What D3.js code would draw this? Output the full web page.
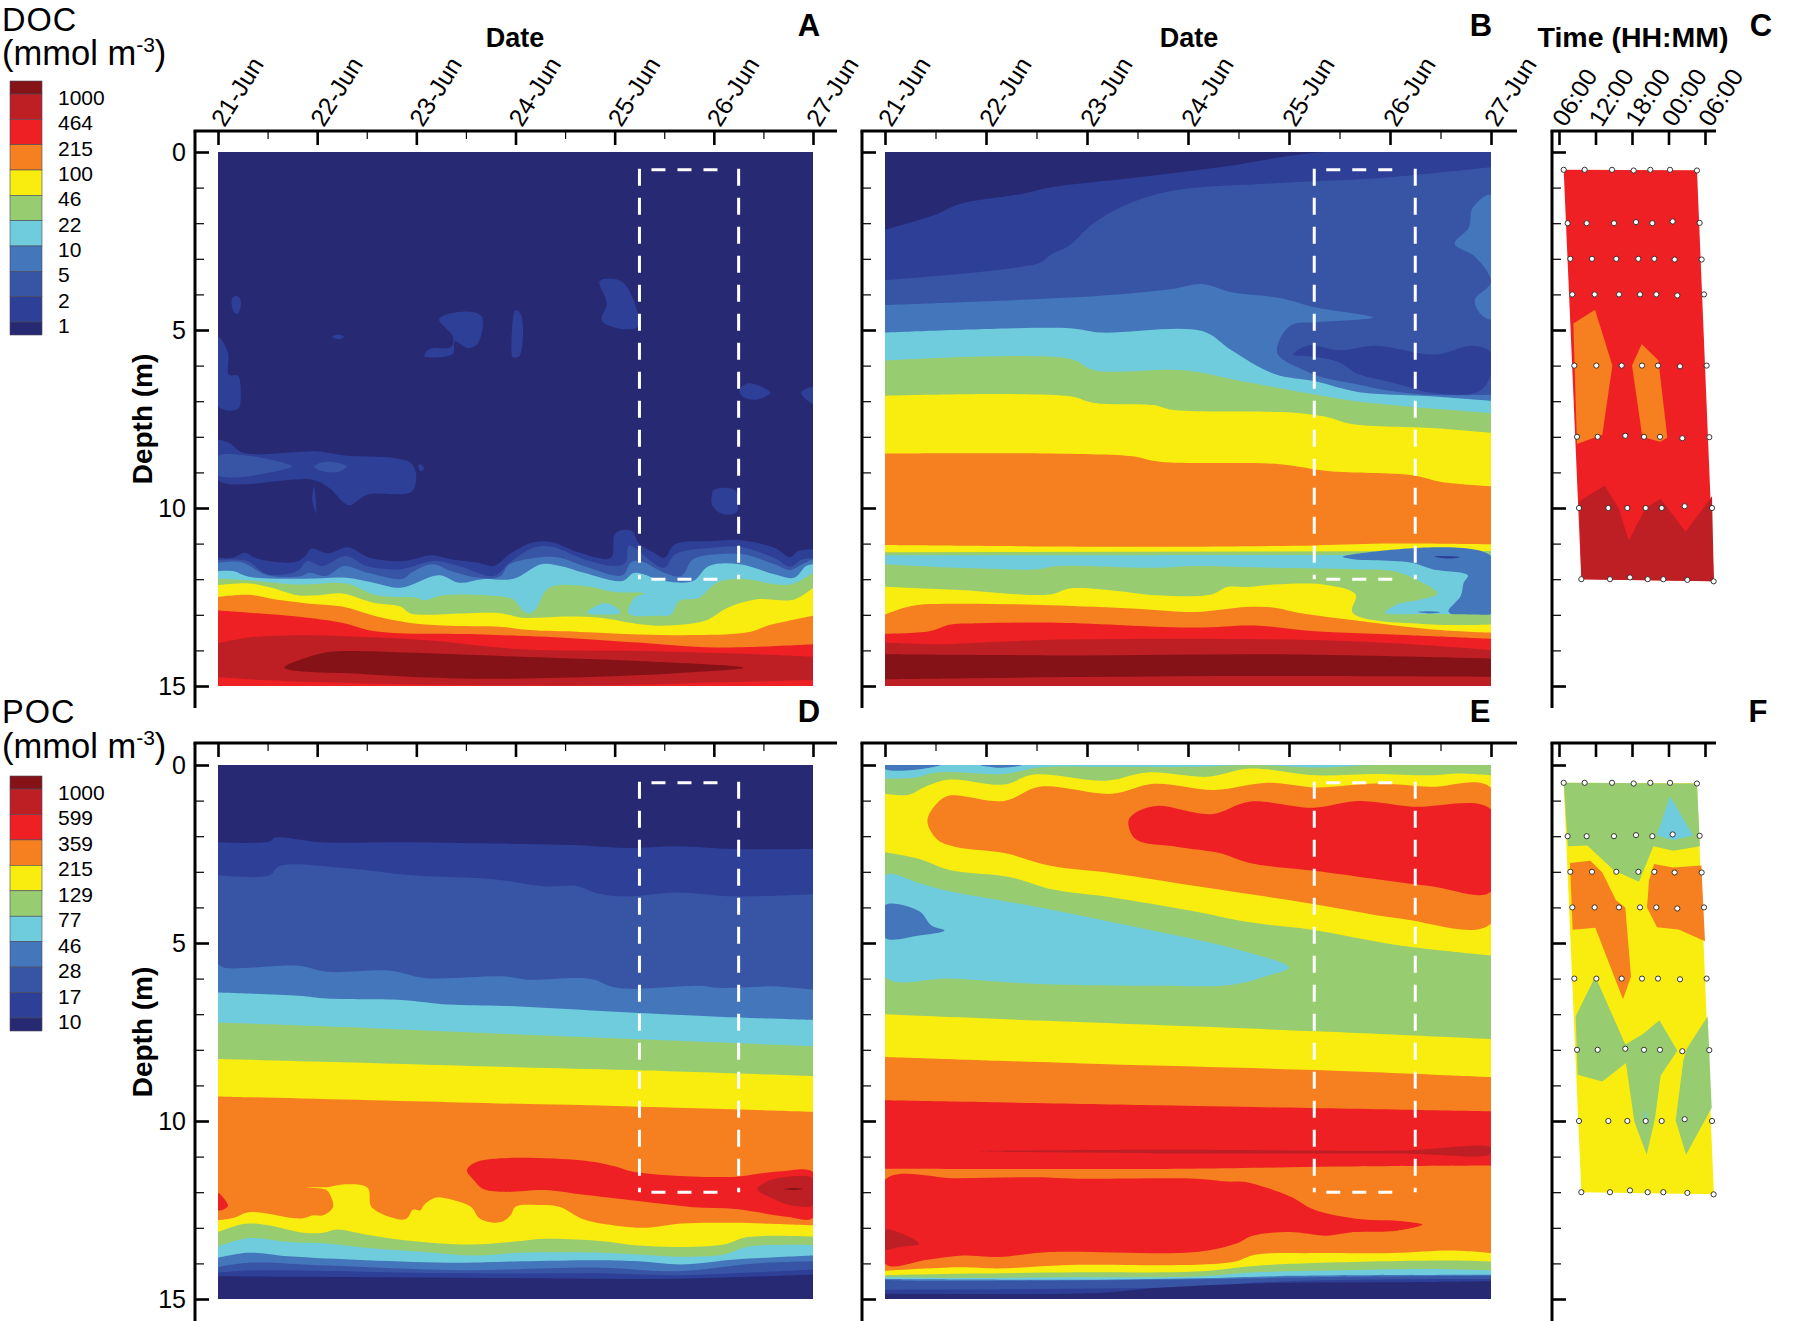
<!DOCTYPE html>
<html>
<head>
<meta charset="utf-8">
<title>DOC and POC depth profiles</title>
<script src="https://cdn.jsdelivr.net/npm/d3@7"></script>
<style>
  html, body { margin: 0; padding: 0; background: #fff; }
  text { font-family: "Liberation Sans", Arial, sans-serif; fill: #000; }
  .axis text { font-family: "Liberation Sans", Arial, sans-serif; fill: #000; }
</style>
</head>
<body>
<div id="chart"></div>
<script>
// contour level colours, low to high
const levelColors = ["#272973", "#2e3f98", "#3854a5", "#4376bb", "#6fccdd", "#98cc70", "#f8ed0f", "#f67f20", "#ee2024", "#bd1f25", "#841216"];
const docLevels = ["1000", "464", "215", "100", "46", "22", "10", "5", "2", "1"];
const pocLevels = ["1000", "599", "359", "215", "129", "77", "46", "28", "17", "10"];
const dayLabels = ["21-Jun", "22-Jun", "23-Jun", "24-Jun", "25-Jun", "26-Jun", "27-Jun"];
const hourLabels = ["06:00", "12:00", "18:00", "00:00", "06:00"];
const depthLabels = [0, 5, 10, 15];
const boxDays = [4.25, 5.25];
const boxDepths = [0.5, 12];

// Each band: [level, day, depth, day, depth, ...] filled from the line down to 15 m
// Each patch: same, but a closed outline
const bandsA = [
  [0, 0, 0, 6, 0],
  [1, 0, 11.4, .15, 11.4, .27, 11.26, .39, 11.42, .78, 11.52, .88, 11.35, .94, 11.14, 1.11, 11.27, 1.31, 11.1, 1.53, 11.4, 1.88, 11.49, 2.15, 11.33, 2.35, 11.44, 2.63, 11.54, 2.78, 11.63, 2.96, 11.26, 3.18, 10.96, 3.37, 10.96, 3.65, 11.26, 3.96, 11.4, 4.0, 10.74, 4.08, 10.62, 4.18, 10.65, 4.24, 10.98, 4.4, 11.26, 4.5, 11.4, 4.61, 11.02, 4.99, 10.93, 5.26, 10.9, 5.61, 11.12, 5.77, 11.38, 5.85, 11.21, 6, 11.16],
  [2, 0, 11.46, .29, 11.49, .5, 11.86, .8, 11.77, .9, 11.49, 1.05, 11.63, 1.29, 11.35, 1.5, 11.63, 1.84, 11.72, 2.18, 11.49, 2.43, 11.63, 2.78, 11.91, 2.94, 11.54, 3.18, 11.12, 3.37, 11.09, 3.69, 11.44, 4.0, 11.63, 4.11, 11.54, 4.14, 11.07, 4.2, 11.12, 4.26, 11.26, 4.5, 11.68, 4.61, 11.3, 4.99, 11.12, 5.26, 11.09, 5.61, 11.4, 5.77, 11.65, 5.89, 11.44, 6, 11.42],
  [3, 0, 11.54, .23, 11.52, .5, 11.89, .84, 11.91, .92, 11.82, 1.09, 11.91, 1.27, 11.63, 1.51, 11.82, 1.86, 11.99, 1.96, 11.8, 2.16, 11.58, 2.35, 11.77, 2.63, 11.96, 2.84, 11.93, 2.94, 11.58, 3.26, 11.38, 3.45, 11.4, 3.69, 11.63, 4.08, 11.89, 4.16, 11.54, 4.26, 11.49, 4.5, 11.82, 4.67, 11.91, 4.79, 11.44, 5.03, 11.3, 5.3, 11.3, 5.61, 11.58, 5.77, 11.74, 5.89, 11.58, 6, 11.44],
  [4, 0, 11.77, .15, 11.77, .31, 11.93, .86, 11.99, 1.29, 11.96, 1.57, 12.1, 1.84, 12.24, 2.23, 11.89, 2.43, 12.1, 2.67, 12.0, 2.98, 11.99, 3.26, 11.58, 3.45, 11.63, 3.69, 11.82, 4.08, 12.05, 4.2, 11.82, 4.5, 12.05, 4.79, 12.05, 4.95, 11.63, 5.26, 11.58, 5.61, 11.86, 5.81, 11.96, 5.93, 11.63, 6, 11.58],
  [5, 0, 11.99, .31, 12.03, .82, 12.15, 1.29, 12.12, 1.6, 12.45, 2, 12.52, 2.08, 12.59, 2.27, 12.45, 2.9, 12.5, 2.98, 12.57, 3.08, 12.89, 3.14, 12.96, 3.2, 12.85, 3.34, 12.24, 3.69, 12.19, 4.0, 12.36, 4.3, 12.4, 4.2, 12.52, 4.14, 12.96, 4.44, 13.03, 4.57, 12.99, 4.65, 12.61, 4.85, 12.52, 5.03, 12.1, 5.26, 11.99, 5.77, 12.15, 6, 11.82],
  [6, 0, 12.17, .31, 12.12, .54, 12.24, .8, 12.45, 1.01, 12.45, 1.25, 12.4, 1.57, 12.66, 1.84, 12.77, 1.94, 12.96, 2.47, 12.96, 2.86, 12.96, 3.06, 13.08, 3.53, 13.05, 3.85, 13.08, 4.28, 13.27, 4.55, 13.3, 4.91, 13.17, 5.14, 12.8, 5.42, 12.57, 5.81, 12.57, 6, 12.24],
  [7, 0, 12.5, .31, 12.44, .58, 12.57, .9, 12.68, 1.25, 12.77, 1.6, 13.05, 1.92, 13.22, 2.27, 13.3, 2.86, 13.34, 3.14, 13.43, 3.65, 13.48, 4.24, 13.55, 4.83, 13.57, 5.36, 13.48, 5.54, 13.31, 6, 13.03],
  [8, 0, 12.88, .31, 12.94, .9, 13.08, 1.25, 13.22, 1.6, 13.47, 2.67, 13.55, 3.65, 13.67, 4.24, 13.78, 5.03, 13.92, 6, 13.83],
  [9, 0, 13.8, .31, 13.64, .7, 13.58, 1.29, 13.6, 2.08, 13.71, 3.06, 13.97, 4.24, 14.02, 5.42, 14.11, 6, 14.18],
  [8, 0, 14.75, .5, 14.84, 1.88, 14.95, 3.85, 14.98, 5.03, 14.9, 6, 14.83]
];
const patchesA = [
  [1, .14, 4.13, .19, 4.04, .23, 4.19, .2, 4.54, .16, 4.5],
  [1, 0, 5.19, .1, 5.63, .11, 6.26, .2, 6.28, .23, 6.76, .2, 7.22, 0, 7.14],
  [1, 1.15, 5.19, 1.22, 5.13, 1.27, 5.19, 1.22, 5.26],
  [1, 2.23, 4.69, 2.52, 4.48, 2.66, 4.63, 2.62, 5.38, 2.52, 5.51, 2.39, 5.32, 2.37, 5.66, 2.26, 5.76, 2.08, 5.73, 2.14, 5.53, 2.35, 5.48, 2.37, 5.19],
  [1, 3.0, 4.44, 3.06, 4.6, 3.04, 5.73, 2.97, 5.76, 2.96, 5.63],
  [1, 3.85, 3.62, 4.08, 3.65, 4.24, 4.88, 4.11, 4.98, 3.88, 4.78, 3.87, 4.65, 3.92, 4.25],
  [1, 5.26, 6.7, 5.33, 6.51, 5.42, 6.53, 5.57, 6.76, 5.44, 6.95, 5.3, 6.89],
  [1, 6, 7.07, 5.88, 6.76, 6, 6.61],
  [1, 0, 8.1, .08, 8.14, .12, 8.18, .26, 8.45, 1.01, 8.41, 1.27, 8.52, 1.96, 8.77, 1.96, 9.52, 1.51, 9.62, 1.33, 9.92, 1.26, 9.83, 1.13, 9.45, .96, 9.21, 0, 9.21],
  [2, 0, 8.54, .75, 8.83, 0, 9.08],
  [2, .97, 8.83, 1.1, 8.7, 1.3, 8.83, 1.22, 8.98, 1.04, 8.96],
  [1, 2.02, 8.79, 2.04, 8.77, 2.08, 8.89, 2.04, 8.96],
  [1, .97, 9.39, .99, 10.15, .95, 9.77],
  [1, 5.0, 9.49, 5.21, 9.49, 5.23, 10.12, 5.07, 10.15, 4.98, 9.9, 4.98, 9.65],
  [4, 3.72, 12.94, 3.8, 12.77, 3.88, 12.68, 3.98, 12.73, 4.06, 12.94],
  [10, .67, 14.49, 1.05, 14.08, 1.29, 14.02, 1.88, 14.06, 3.06, 14.18, 4.24, 14.3, 5.3, 14.49, 4.63, 14.64, 3.45, 14.77, 2.47, 14.79, 1.49, 14.67]
];

const bandsB = [
  [0, 0, 0, 6, 0],
  [1, 0, 2.18, .52, 1.74, .73, 1.47, 1.35, 1.18, 1.65, .99, 2.42, .74, 3.31, .43, 4.35, 0, 6, 0],
  [2, 0, 3.6, .94, 3.37, 1.35, 3.22, 1.53, 3.12, 1.65, 2.87, 1.83, 2.62, 2.04, 2.06, 2.36, 1.52, 2.84, 1.09, 3.91, .87, 4.86, .74, 6, .43],
  [3, 0, 4.3, .94, 4.2, 2.13, 4.04, 2.84, 3.85, 3.14, 3.71, 3.43, 3.94, 3.91, 4.1, 4.27, 4.37, 4.83, 4.65, 4.27, 4.78, 4.03, 4.85, 3.91, 5.25, 3.89, 5.69, 4.15, 6.13, 4.32, 6.32, 4.68, 6.53, 4.98, 6.7, 5.37, 6.82, 6, 6.82],
  [4, 0, 5.07, 1.83, 4.95, 2.13, 5.07, 3.14, 5.03, 3.43, 5.57, 3.85, 6.23, 4.27, 6.45, 4.68, 6.74, 5.39, 6.86, 6, 6.99],
  [5, 0, 5.86, 1.83, 5.81, 2.07, 6.13, 2.96, 6.13, 3.55, 6.45, 4.27, 6.82, 4.68, 7.01, 5.22, 7.16, 6, 7.33],
  [6, 0, 6.85, 1.83, 6.86, 2.07, 7.05, 2.66, 7.11, 2.84, 7.24, 4.03, 7.32, 4.38, 7.45, 4.62, 7.64, 5.45, 7.76, 6, 7.89],
  [7, 0, 8.47, 2.42, 8.54, 2.72, 8.7, 3.91, 8.77, 4.38, 8.96, 5.22, 9.08, 5.51, 9.27, 6, 9.39],
  [6, 0, 11.04, 2.68, 11.09, 4.25, 11.05, 5.03, 11.0, 6, 11.02],
  [5, 0, 11.24, 6, 11.21],
  [4, 0, 11.33, 4.25, 11.32, 6, 11.3],
  [5, 0, 11.58, .73, 11.68, 1.51, 11.72, 1.71, 11.63, 2.68, 11.68, 3.08, 11.63, 3.86, 11.68, 4.64, 11.72, 5.03, 11.77, 5.22, 11.96, 5.47, 12.4, 5.3, 12.57, 5.07, 12.71, 4.95, 12.94, 5.42, 12.97, 6, 13.0],
  [6, 0, 12.21, .73, 12.3, 1.63, 12.43, 1.83, 12.26, 2.3, 12.33, 2.68, 12.45, 3.23, 12.43, 3.39, 12.22, 3.58, 12.22, 3.86, 12.15, 4.37, 12.16, 4.66, 12.43, 4.63, 12.94, 5.42, 13.27, 6, 13.27],
  [7, 0, 12.99, .26, 12.75, .65, 12.69, 1.63, 12.73, 2.49, 12.83, 3.08, 12.92, 3.58, 12.78, 3.86, 12.8, 4.09, 12.94, 4.84, 13.22, 5.42, 13.41, 6, 13.5],
  [8, 0, 13.53, .44, 13.46, .65, 13.27, .93, 13.24, 1.71, 13.22, 3.08, 13.36, 3.66, 13.3, 4.25, 13.46, 5.03, 13.55, 6, 13.67],
  [9, 0, 13.78, .54, 13.83, 1.12, 13.76, 1.9, 13.69, 3.86, 13.69, 5.03, 13.8, 6, 13.99],
  [10, 0, 14.11, 1.9, 14.14, 3.86, 14.11, 6, 14.23],
  [9, 0, 14.81, 1.9, 14.75, 3.86, 14.72, 6, 14.74]
];
const patchesB = [
  [3, 6, 1.2, 5.82, 1.56, 5.78, 2.12, 5.64, 2.58, 5.84, 2.94, 6, 3.65, 5.84, 4.15, 5.9, 4.56, 6, 4.69],
  [1, 4.04, 5.69, 4.18, 5.44, 4.5, 5.57, 4.86, 5.44, 5.45, 5.69, 5.81, 5.44, 6, 5.63, 6, 6.26, 5.87, 6.74, 5.36, 6.74, 5.22, 6.63, 4.98, 6.45, 4.68, 6.23, 4.5, 5.91, 4.27, 5.76],
  [3, 4.53, 11.37, 4.64, 11.44, 5.03, 11.49, 5.22, 11.54, 5.42, 11.72, 5.77, 11.89, 5.73, 12.1, 5.7, 12.47, 5.58, 12.92, 6, 12.97, 6, 11.35],
  [1, 5.44, 11.36, 5.57, 11.35, 5.69, 11.38, 5.57, 11.42],
  [3, 5.27, 12.92, 5.4, 12.9, 5.5, 12.93, 5.4, 12.96]
];

const bandsD = [
  [0, 0, 0, 6, 0],
  [1, 0, 2.17, .52, 2.15, .58, 2.04, 1.04, 2.17, 1.85, 2.17, 2.43, 2.19, 3.59, 2.25, 4.11, 2.33, 4.63, 2.28, 5.21, 2.36, 6, 2.36],
  [2, 0, 3.1, .52, 3.1, .62, 2.84, 1.27, 2.89, 1.96, 3.1, 2.78, 3.21, 3.3, 3.41, 3.62, 3.4, 3.82, 3.6, 4.11, 3.69, 4.63, 3.58, 5.21, 3.69, 6, 3.63],
  [3, 0, 5.58, .06, 5.69, .81, 5.64, 1.1, 5.81, 1.74, 5.78, 2.08, 5.98, 2.9, 5.94, 3.13, 6.03, 3.76, 6.01, 4.02, 6.26, 4.87, 6.2, 5.04, 6.26, 5.62, 6.22, 6, 6.31],
  [4, 0, 6.39, .81, 6.48, 1.1, 6.56, 1.85, 6.6, 2.32, 6.73, 2.9, 6.77, 4.05, 6.94, 5.04, 7.07, 6, 7.16],
  [5, 0, 7.23, 1.27, 7.36, 2.43, 7.5, 4.17, 7.7, 6, 7.9],
  [6, 0, 8.26, 1.27, 8.35, 3.01, 8.49, 4.17, 8.57, 6, 8.74],
  [7, 0, 9.31, 2.43, 9.48, 4.17, 9.59, 6, 9.74]
];
const patchesD = [
  [8, 2.51, 11.38, 2.63, 11.13, 3.65, 11.1, 4.0, 11.27, 4.2, 11.43, 5.18, 11.57, 5.5, 11.46, 5.69, 11.41, 6, 11.44, 6, 12.72, 5.73, 12.69, 5.22, 12.47, 4.79, 12.42, 4.24, 12.25, 3.65, 12.06, 3.3, 11.94, 2.87, 11.99, 2.67, 11.9, 2.59, 11.69],
  [9, 5.44, 11.91, 5.57, 11.66, 5.73, 11.57, 6, 11.62, 6, 12.35, 5.81, 12.39, 5.61, 12.2],
  [10, 5.71, 11.91, 5.79, 11.88, 5.9, 11.91, 5.8, 11.94],
  [8, 0, 12.02, .1, 12.39, 0, 12.51]
];
const lowerBandsD = [
  [6, 0, 12.79, .16, 12.72, .31, 12.56, .84, 12.74, .96, 12.65, 1.06, 12.65, 1.16, 12.41, 1.12, 12.02, 1.08, 11.92, .9, 11.88, .96, 11.86, 1.1, 11.86, 1.28, 11.78, 1.51, 11.88, 1.55, 12.42, 1.87, 12.77, 1.92, 12.69, 1.96, 12.5, 2, 12.49, 2.04, 12.51, 2.08, 12.35, 2.18, 12.16, 2.28, 12.16, 2.55, 12.41, 2.63, 12.72, 2.72, 12.83, 2.85, 12.84, 2.95, 12.65, 3.0, 12.41, 3.22, 12.36, 3.44, 12.41, 3.69, 12.77, 4.04, 12.95, 4.32, 13.0, 4.67, 12.88, 5.22, 12.86, 6, 12.93],
  [5, 0, 13.12, .2, 12.93, .31, 12.88, .51, 12.93, .86, 13.14, 1.06, 13.14, 1.2, 13.05, 1.49, 13.19, 1.88, 13.35, 2.55, 13.47, 3.06, 13.37, 3.3, 13.31, 3.85, 13.37, 4.24, 13.5, 4.63, 13.54, 5.1, 13.47, 5.34, 13.26, 6, 13.25],
  [4, 0, 13.53, .31, 13.29, .71, 13.4, 1.1, 13.44, 1.49, 13.56, 2.08, 13.68, 2.59, 13.78, 3.06, 13.7, 3.85, 13.7, 4.24, 13.75, 4.63, 13.81, 5.1, 13.75, 5.34, 13.53, 6, 13.48],
  [3, 0, 13.84, .31, 13.7, .71, 13.8, 1.49, 13.91, 2.43, 13.98, 3.06, 13.94, 3.85, 13.91, 4.24, 13.94, 4.67, 14.03, 5.22, 13.89, 6, 13.78],
  [2, 0, 14.1, .31, 13.98, 1.1, 14.06, 2.43, 14.19, 3.85, 14.12, 4.63, 14.22, 5.42, 14.0, 6, 13.94],
  [1, 0, 14.26, .31, 14.2, 2.43, 14.28, 3.85, 14.28, 4.63, 14.33, 6, 14.17],
  [0, 0, 14.36, 2.43, 14.4, 4.63, 14.43, 6, 14.31]
];

const bandsE = [
  [4, 0, 0, 6, 0],
  [5, 0, .38, .28, .36, .52, .21, 1.17, .25, 1.53, .07, 2.25, .05, 3.08, .05, 3.67, 0, 4.27, .07, 4.86, 0, 6, 0],
  [6, 0, .81, .23, .84, .4, .61, .64, .41, 1.18, .55, 1.47, .27, 2.19, .44, 2.6, .21, 3.2, .33, 3.61, .1, 4.27, .29, 4.86, .25, 5.39, .29, 5.69, .24, 6, .29]
];
const patchesE = [
  [3, 0, 0, .55, 0, .28, .14, 0, .11],
  [3, .94, 0, 1.36, 0, 1.15, .08],
  [7, .42, 1.57, .52, 1.06, .64, .86, 1.18, 1.01, 1.53, .61, 2.25, .81, 2.66, .53, 3.26, .7, 3.79, .5, 4.27, .63, 4.86, .52, 5.39, .61, 6, .64, 6, 4.45, 5.1, 4.31, 4.21, 3.89, 3.14, 3.43, 2.25, 3.04, 1.65, 2.84, 1.18, 2.47, .7, 2.3, .52, 2.1],
  [8, 2.41, 1.57, 2.48, 1.34, 2.69, 1.15, 3.23, 1.38, 3.61, 1.03, 4.24, 1.2, 4.68, 1.01, 5.22, 1.17, 6, 1.25, 6, 3.55, 5.39, 3.4, 4.27, 2.98, 3.61, 2.75, 3.31, 2.47, 2.9, 2.3, 2.48, 2.08]
];
const midBandsE = [
  [5, 0, 2.45, .34, 2.64, .64, 2.95, 1.24, 3.15, 1.65, 3.49, 2.25, 3.72, 3.02, 4.09, 3.61, 4.42, 4.21, 4.62, 5.1, 5.07, 6, 5.35]
];
const midPatchesE = [
  [4, 0, 3.1, .34, 3.32, .58, 3.51, 1.53, 4.0, 2.6, 4.62, 3.49, 5.18, 4.0, 5.69, 3.79, 5.92, 3.44, 6.17, 2.72, 6.2, 1.53, 6.15, .64, 6.0, 0, 5.95],
  [3, 0, 3.94, .34, 4.11, .46, 4.51, .59, 4.65, .34, 4.79, 0, 4.85]
];
const deepBandsE = [
  [6, 0, 7.0, 1.53, 7.18, 4.27, 7.48, 6, 7.7],
  [7, 0, 8.2, 2.13, 8.4, 4.27, 8.57, 6, 8.77],
  [8, 0, 9.42, 2.72, 9.56, 6, 9.73],
  [7, 0, 11.34, 3.02, 11.34, 4.5, 11.28, 6, 11.25]
];
const deepPatchesE = [
  [9, .94, 10.85, 2.72, 10.81, 5.1, 10.83, 6, 10.75, 6, 10.92, 5.1, 10.91, 2.72, 10.91],
  [8, 0, 11.65, .73, 11.61, 1.51, 11.58, 1.9, 11.62, 3.08, 11.62, 3.39, 11.7, 3.58, 11.72, 4.01, 12.12, 4.25, 12.49, 4.72, 12.76, 5.07, 12.8, 5.32, 12.91, 5.07, 13.08, 4.64, 13.12, 4.37, 13.22, 4.01, 13.12, 3.64, 13.22, 3.47, 13.45, 3.08, 13.68, 1.63, 13.68, 1.12, 13.82, .77, 13.78, .42, 13.9, 0, 14.01],
  [9, 0, 13.06, .14, 13.13, .34, 13.45, .14, 13.54, 0, 13.6]
];
const lowerBandsE = [
  [6, 0, 14.21, .73, 14.11, 1.12, 14.14, 1.9, 14.04, 3.08, 14.04, 3.47, 13.95, 3.66, 13.76, 4.25, 13.71, 5.03, 13.71, 5.62, 13.64, 6, 13.71],
  [5, 0, 14.33, .73, 14.29, 1.9, 14.25, 3.08, 14.23, 3.66, 14.07, 4.25, 13.99, 5.62, 13.92, 6, 13.95],
  [4, 0, 14.38, .73, 14.41, 1.9, 14.39, 3.08, 14.37, 3.66, 14.25, 4.44, 14.2, 5.42, 14.16, 6, 14.2],
  [3, 0, 14.44, 1.9, 14.46, 3.27, 14.41, 4.05, 14.35, 6, 14.32],
  [2, 0, 14.46, .23, 14.49, 1.9, 14.48, 3.27, 14.44, 4.25, 14.39, 6, 14.35],
  [1, 0, 14.74, 1.51, 14.72, 3.19, 14.65, 3.66, 14.54, 4.64, 14.46, 6, 14.44],
  [0, 0, 14.85, 2.1, 14.83, 2.69, 14.69, 3.86, 14.55, 5.03, 14.53, 6, 14.5]
];

// Sampling stations for the 24 h casts: hours after 06:00, then depth
const stationHours = [
  [.77, 4.22, 8.71, 12.27, 15.01, 18.25, 22.68],
  [1.42, 4.55, 9.04, 12.66, 15.34, 18.68, 23.12],
  [1.86, 5.42, 9.42, 13.04, 15.67, 19.01, 23.45],
  [2.19, 5.86, 9.86, 13.32, 16.0, 19.45, 23.84],
  [2.52, 6.14, 10.3, 13.64, 16.27, 19.89, 24.27],
  [2.96, 6.36, 10.9, 13.97, 16.6, 20.27, 24.71],
  [3.29, 8.11, 11.23, 14.25, 16.88, 20.66, 25.15],
  [3.67, 8.38, 11.67, 14.58, 17.15, 21.1, 25.42]
];
const stationDepths = [
  [.5, .5, .5, .52, .5, .5, .52],
  [2, 2, 2, 1.97, 2, 1.95, 1.99],
  [3, 3, 3, 3, 3, 3.02, 3.02],
  [4, 4, 4, 4, 4, 4.03, 4],
  [6, 6, 6, 6, 6, 6.02, 6],
  [8, 8, 7.97, 8, 8, 8.04, 8.01],
  [10, 10, 10, 10, 10, 9.95, 10],
  [12, 12, 11.95, 12, 12, 12.02, 12.06]
];
const castOutline = [.77, .5, 22.68, .51, 25.46, 12.06, 3.67, 12];
const patchesC = [
  [7, 2.36, 4.82, 5.92, 4.43, 8.77, 6.0, 7.12, 7.94, 2.96, 8.2],
  [7, 12.0, 6.0, 13.59, 5.39, 16.33, 5.85, 17.81, 8.03, 16.6, 8.14, 13.7, 8.0],
  [9, 3.34, 9.81, 7.5, 9.37, 9.81, 10, 11.45, 10.91, 14.25, 10, 16.71, 9.74, 20.82, 10.67, 25.15, 9.67, 25.46, 12.06, 3.67, 12]
];
const patchesF = [
  [5, .77, .5, 22.68, .52, 23.18, 2.28, 18.79, 2.41, 15.51, 2.28, 13.15, 3.28, 9.04, 2.96, 4.66, 2.26, 1.48, 2.28],
  [4, 18.25, .88, 22.03, 1.98, 18.79, 2.11, 16.05, 1.98],
  [7, 1.8, 2.75, 5.15, 2.69, 7.12, 3.02, 9.37, 3.8, 10.9, 4.0, 11.84, 5.94, 10.52, 6.58, 5.97, 4.57, 2.25, 4.63],
  [7, 15.62, 2.78, 18.79, 2.88, 23.4, 2.82, 24, 4.95, 19.67, 4.62, 16.11, 4.56, 14.47, 4.0, 14.8, 3.24],
  [5, 2.74, 7.06, 5.97, 5.94, 10.9, 7.85, 13.86, 7.55, 16.5, 7.17, 19.45, 8.03, 16.71, 8.72, 15.78, 9.93, 14.41, 10.95, 12.38, 10.01, 11.01, 8.37, 7.12, 8.89, 3.07, 8.7],
  [5, 24.44, 7.06, 25.1, 9.63, 20.88, 10.95, 19.18, 9.98, 20.44, 8.3, 21, 7.97],
  [4, 14.2, 9.65, 13.97, 9.93, 14.41, 9.93]
];

const W = 1801, H = 1321;
const svg = d3.select("#chart").append("svg")
  .attr("width", W).attr("height", H)
  .style("display", "block")
  .style("background", "#fff");

const rows = [
  { top: 131, y0: 152, y1: 686, axisEnd: 708 },
  { top: 743, y0: 765, y1: 1299, axisEnd: 1321 }
];
const cols = [
  { axis: 195, x0: 218, x1: 813, end: 837 },
  { axis: 862, x0: 885, x1: 1491, end: 1517 }
];
const castCol = { axis: 1552, x0: 1559, x1: 1705, end: 1716 };

const toPoints = row => d3.range(1, row.length, 2).map(i => [row[i], row[i + 1]]);

function drawAxes(g, x, y, row, col, topTicks, minorTicks, topLabels, showDepth) {
  const top = g.append("g").attr("class", "axis").attr("transform", `translate(0,${row.top})`);
  top.call(d3.axisTop(x).tickValues(topTicks).tickSizeInner(-14).tickSizeOuter(0).tickFormat((d, i) => topLabels ? topLabels[i] : ""));
  top.select(".domain").remove();
  top.selectAll("line").attr("stroke", "#000").attr("stroke-width", 2.6);
  top.selectAll("text")
    .attr("font-size", 24.7)
    .attr("text-anchor", "start")
    .attr("x", null).attr("y", null).attr("dy", null)
    .attr("transform", "translate(6,-3) rotate(-58)");
  if (minorTicks.length) {
    const minor = g.append("g").attr("class", "axis").attr("transform", `translate(0,${row.top})`);
    minor.call(d3.axisTop(x).tickValues(minorTicks).tickSizeInner(-8).tickSizeOuter(0).tickFormat(""));
    minor.select(".domain").remove();
    minor.selectAll("line").attr("stroke", "#000").attr("stroke-width", 1.2);
  }
  const left = g.append("g").attr("class", "axis").attr("transform", `translate(${col.axis},0)`);
  left.call(d3.axisLeft(y).tickValues(depthLabels).tickSizeInner(-14).tickSizeOuter(0).tickPadding(9).tickFormat(d => showDepth ? d : ""));
  left.select(".domain").remove();
  left.selectAll("line").attr("stroke", "#000").attr("stroke-width", 2.6);
  left.selectAll("text").attr("font-size", 25);
  const leftMinor = g.append("g").attr("class", "axis").attr("transform", `translate(${col.axis},0)`);
  leftMinor.call(d3.axisLeft(y).tickValues(d3.range(0, 16).filter(d => d % 5)).tickSizeInner(-9).tickSizeOuter(0).tickFormat(""));
  leftMinor.select(".domain").remove();
  leftMinor.selectAll("line").attr("stroke", "#000").attr("stroke-width", 1.2);
  g.append("line").attr("x1", col.axis - 1.5).attr("x2", col.end).attr("y1", row.top).attr("y2", row.top)
    .attr("stroke", "#000").attr("stroke-width", 3);
  g.append("line").attr("x1", col.axis).attr("x2", col.axis).attr("y1", row.top).attr("y2", row.axisEnd)
    .attr("stroke", "#000").attr("stroke-width", 3);
}

let clipCount = 0;
function drawContourPanel(row, col, layers, showDates, showDepth) {
  const x = d3.scaleLinear().domain([0, 6]).range([col.x0, col.x1]);
  const y = d3.scaleLinear().domain([0, 15]).range([row.y0, row.y1]);
  const g = svg.append("g");
  const id = "clip" + (clipCount++);
  g.append("clipPath").attr("id", id).append("rect")
    .attr("x", col.x0).attr("y", row.y0).attr("width", col.x1 - col.x0).attr("height", row.y1 - row.y0);
  const plot = g.append("g").attr("clip-path", `url(#${id})`);
  const bandLine = d3.line().x(d => x(d[0])).y(d => y(d[1])).curve(d3.curveCatmullRom.alpha(0.5));
  const patchLine = d3.line().x(d => x(d[0])).y(d => y(d[1])).curve(d3.curveCatmullRomClosed.alpha(0.5));
  layers.forEach(layer => {
    plot.selectAll(null).data(layer.rows).enter().append("path")
      .attr("d", r => layer.closed
        ? patchLine(toPoints(r))
        : bandLine(toPoints(r)) + `L${x(6) + 3},${y(toPoints(r).at(-1)[1])}L${x(6) + 3},${y(15)}L${x(0) - 3},${y(15)}L${x(0) - 3},${y(r[2])}Z`)
      .attr("fill", r => levelColors[r[0]]);
  });
  // 24 h window shown in the right hand panel, dashed side by side
  const box = g.append("g").attr("fill", "none").attr("stroke", "#fff").attr("stroke-width", 3);
  boxDays.forEach(d => {
    box.append("line").attr("x1", x(d)).attr("x2", x(d)).attr("y1", y(boxDepths[0]) - 1).attr("y2", y(boxDepths[1]))
      .attr("stroke-dasharray", "17 12");
  });
  boxDepths.forEach(d => {
    box.append("line").attr("x1", x(boxDays[0])).attr("x2", x(boxDays[1]) - 13).attr("y1", y(d)).attr("y2", y(d))
      .attr("stroke-dasharray", "14 12").attr("stroke-dashoffset", 14);
  });
  drawAxes(g, x, y, row, col, d3.range(0, 7), d3.range(0.5, 6, 1), showDates ? dayLabels : null, showDepth);
}

function drawCastPanel(row, baseLevel, patches, showHours) {
  const x = d3.scaleLinear().domain([0, 24]).range([castCol.x0, castCol.x1]);
  const y = d3.scaleLinear().domain([0, 15]).range([row.y0, row.y1]);
  const g = svg.append("g");
  const line = d3.line().x(d => x(d[0])).y(d => y(d[1]));
  g.append("path").attr("d", line(toPoints([0].concat(castOutline))) + "Z").attr("fill", levelColors[baseLevel]);
  g.selectAll(null).data(patches).enter().append("path")
    .attr("d", r => line(toPoints(r)) + "Z")
    .attr("fill", r => levelColors[r[0]]);
  const stations = stationHours.flatMap((hours, i) => hours.map((h, j) => [h, stationDepths[i][j]]));
  g.selectAll(null).data(stations).enter().append("circle")
    .attr("cx", d => x(d[0])).attr("cy", d => y(d[1])).attr("r", 2.6)
    .attr("fill", "#fff").attr("stroke", "#222").attr("stroke-width", 0.9);
  drawAxes(g, x, y, row, castCol, d3.range(0, 25, 6), [], showHours ? hourLabels : null, false);
}

function drawLegend(name, levels, titleY, unitY, y0, yFirst, yLast, y1) {
  const g = svg.append("g");
  g.append("text").attr("x", 2).attr("y", titleY).attr("font-size", 32.5).attr("letter-spacing", 1).text(name);
  const unit = g.append("text").attr("x", 2).attr("y", unitY).attr("font-size", 34.5);
  unit.append("tspan").text("(mmol m");
  unit.append("tspan").attr("font-size", 21).attr("dy", -13).text("-3");
  unit.append("tspan").attr("dy", 13).text(")");
  const ly = d3.scaleLinear().domain([0, levels.length - 1]).range([yFirst, yLast]);
  const edges = [y0].concat(levels.map((d, i) => ly(i)), [y1]);
  d3.pairs(edges).forEach((e, i) => {
    g.append("rect").attr("x", 10).attr("width", 32).attr("y", e[0]).attr("height", e[1] - e[0])
      .attr("fill", levelColors[10 - i]).attr("stroke", "#4a4a5a").attr("stroke-width", 0.6);
  });
  g.selectAll(null).data(levels).enter().append("text")
    .attr("x", 58).attr("y", (d, i) => ly(i) + 11).attr("font-size", 21).text(d => d);
}

function titleText(x, y, text, size, anchor, rotate) {
  svg.append("text").attr("font-weight", "bold").attr("font-size", size)
    .attr("text-anchor", anchor || "middle")
    .attr("transform", `translate(${x},${y})` + (rotate ? ` rotate(${rotate})` : ""))
    .text(text);
}

drawContourPanel(rows[0], cols[0], [
  { rows: bandsA.slice(0, 1) }, { rows: patchesA.slice(0, 14), closed: true },
  { rows: bandsA.slice(1, 6) }, { rows: patchesA.slice(14, 15), closed: true },
  { rows: bandsA.slice(6, 10) }, { rows: patchesA.slice(15), closed: true },
  { rows: bandsA.slice(10) }
], true, true);
drawContourPanel(rows[0], cols[1], [
  { rows: bandsB.slice(0, 3) }, { rows: patchesB.slice(0, 1), closed: true },
  { rows: bandsB.slice(3, 4) }, { rows: patchesB.slice(1, 2), closed: true },
  { rows: bandsB.slice(4, 11) }, { rows: patchesB.slice(2, 4), closed: true },
  { rows: bandsB.slice(11, 12) }, { rows: patchesB.slice(4), closed: true },
  { rows: bandsB.slice(12) }
], true, false);
drawCastPanel(rows[0], 8, patchesC, true);
drawContourPanel(rows[1], cols[0], [
  { rows: bandsD }, { rows: patchesD, closed: true }, { rows: lowerBandsD }
], false, true);
drawContourPanel(rows[1], cols[1], [
  { rows: bandsE }, { rows: patchesE, closed: true },
  { rows: midBandsE }, { rows: midPatchesE, closed: true },
  { rows: deepBandsE }, { rows: deepPatchesE, closed: true },
  { rows: lowerBandsE }
], false, false);
drawCastPanel(rows[1], 6, patchesF, false);

drawLegend("DOC", docLevels, 30.5, 65, 81, 94, 322, 335);
drawLegend("POC", pocLevels, 723, 758, 776, 789, 1018, 1031);

titleText(515, 47, "Date", 27);
titleText(1189, 47, "Date", 27);
titleText(1633, 47, "Time (HH:MM)", 28.5);
titleText(152, 419, "Depth (m)", 28, "middle", -90);
titleText(152, 1032, "Depth (m)", 28, "middle", -90);
[["A", 809, 36], ["B", 1481, 36], ["C", 1761, 36], ["D", 809, 722], ["E", 1480, 722], ["F", 1758, 722]]
  .forEach(p => titleText(p[1], p[2], p[0], 31));
</script>
</body>
</html>
